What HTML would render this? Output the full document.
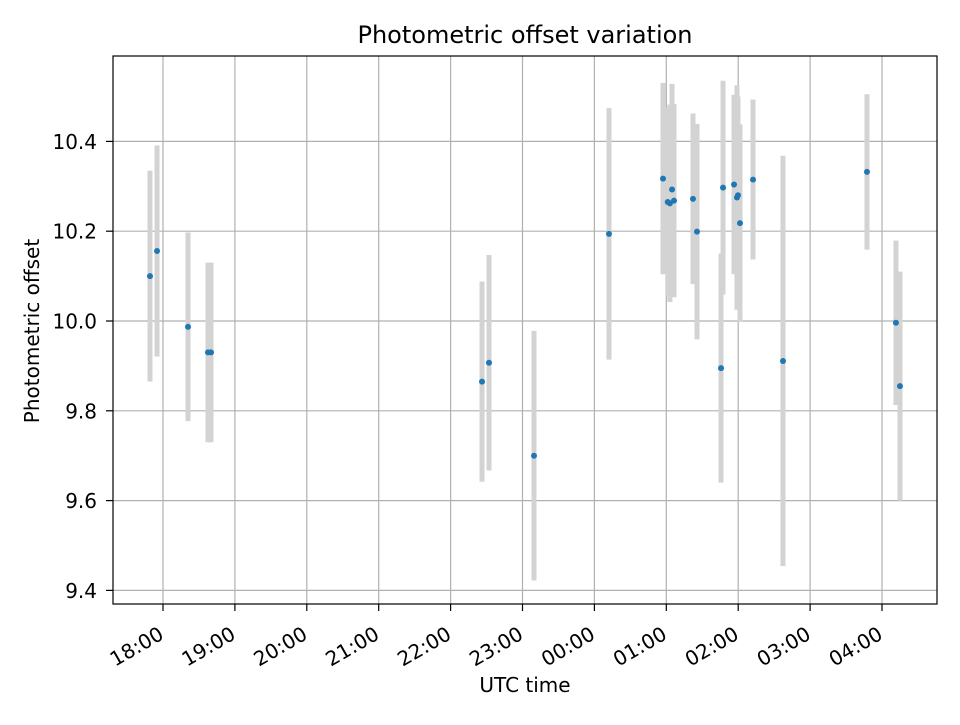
<!DOCTYPE html>
<html><head><meta charset="utf-8"><style>
body{margin:0;background:#fff;font-family:"Liberation Sans","DejaVu Sans",sans-serif}
</style></head><body>
<svg id="chart" width="960" height="720" xmlns="http://www.w3.org/2000/svg" font-family="DejaVu Sans, Liberation Sans, sans-serif">
<rect width="960" height="720" fill="#fff"/>
<text x="525" y="43" font-size="24" text-anchor="middle">Photometric offset variation</text>
<text x="525" y="692" font-size="20" text-anchor="middle">UTC time</text>
<text transform="translate(39,331) rotate(-90)" font-size="20" text-anchor="middle">Photometric offset</text>
<g id="grid"></g>
<g id="errs"></g>
<g id="pts"></g>
<g id="axes"></g>
<rect x="113" y="56" width="824" height="548" fill="none" stroke="#000" stroke-width="1.2"/>
</svg>
<script>
// time in hours after midnight of first day (24+ = next day)
const times = [17.819,17.917,18.348,18.626,18.668,22.437,22.534,23.16,24.203,24.954,25.02,25.05,25.08,25.107,25.371,25.427,25.761,25.789,25.942,25.983,25.997,26.025,26.206,26.623,27.791,28.194,28.25];
const values = [10.100,10.156,9.987,9.930,9.930,9.865,9.907,9.700,10.194,10.317,10.265,10.262,10.293,10.268,10.272,10.199,9.895,10.297,10.304,10.275,10.280,10.218,10.315,9.911,10.332,9.996,9.855];
const errors = [0.235,0.235,0.21,0.2,0.2,0.223,0.24,0.278,0.28,0.213,0.21,0.22,0.235,0.215,0.19,0.24,0.255,0.238,0.2,0.25,0.22,0.22,0.178,0.457,0.173,0.183,0.255];
const xTicks = [18,19,20,21,22,23,24,25,26,27,28];
const xTickLabels = ["18:00","19:00","20:00","21:00","22:00","23:00","00:00","01:00","02:00","03:00","04:00"];
const yTicks = [9.4,9.6,9.8,10.0,10.2,10.4];
const yTickLabels = ["9.4","9.6","9.8","10.0","10.2","10.4"];

const NS="http://www.w3.org/2000/svg";
const xs = t => 163 + (t-18)*71.9;
const ys = v => 321 - (v-10.0)*449;
function mk(tag, attrs, parent){const e=document.createElementNS(NS,tag);for(const k in attrs)e.setAttribute(k,attrs[k]);parent.appendChild(e);return e;}
const grid=document.getElementById('grid'), errs=document.getElementById('errs'), pts=document.getElementById('pts'), axes=document.getElementById('axes');
xTicks.forEach((t,i)=>{
  const x=xs(t);
  const g=mk('line',{x1:x,x2:x,y1:56,y2:604,stroke:'#b0b0b0','stroke-width':1.2},grid);
  
  
  const tk=mk('line',{x1:x,x2:x,y1:604,y2:611,stroke:'#000','stroke-width':1.2},axes);
  
  
  const lb=mk('text',{transform:`translate(${x+2},638) rotate(-30)`,'font-size':20,'text-anchor':'end'},axes);
  lb.textContent=xTickLabels[i];
  
  
});
yTicks.forEach((v,i)=>{
  const y=ys(v);
  const g=mk('line',{x1:113,x2:937,y1:y,y2:y,stroke:'#b0b0b0','stroke-width':1.2},grid);
  
  
  const tk=mk('line',{x1:106,x2:113,y1:y,y2:y,stroke:'#000','stroke-width':1.2},axes);
  
  
  const lb=mk('text',{x:97,y:y+7.5,'font-size':20,'text-anchor':'end'},axes);
  lb.textContent=yTickLabels[i];
  
  
});
times.forEach((t,i)=>{
  const x=xs(t);
  const e=mk('line',{x1:x,x2:x,y1:ys(values[i]+errors[i]),y2:ys(values[i]-errors[i]),stroke:'#d3d3d3','stroke-width':5},errs);
  
  
  const c=mk('circle',{cx:x,cy:ys(values[i]),r:3,fill:'#1f77b4'},pts);
  
  
});
</script>
</body></html>
